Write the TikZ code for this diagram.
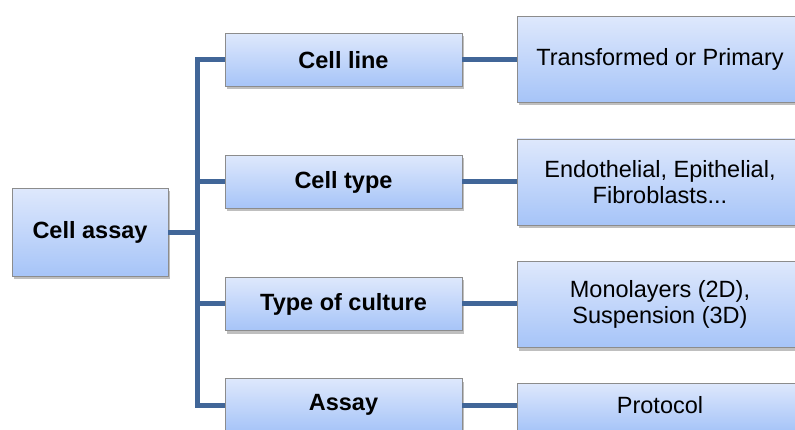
\documentclass[tikz,border=0pt]{standalone}
\usepackage{fontspec}
\setmainfont{Liberation Sans}
\usetikzlibrary{shadows}
\definecolor{linkblue}{RGB}{65,102,152}
\definecolor{boxtop}{RGB}{222,232,252}
\definecolor{boxbot}{RGB}{166,196,248}
\definecolor{boxedge}{RGB}{140,140,140}
\tikzset{
  box/.style={draw=boxedge, line width=0.8pt, shading=axis, top color=boxtop, bottom color=boxbot,
    drop shadow={shadow xshift=2pt, shadow yshift=-3pt, fill=black, opacity=0.25},
    align=center, inner sep=0pt, font=\fontsize{23.5}{26}\selectfont},
  leftbox/.style={box, minimum width=237pt, minimum height=53pt, font=\fontsize{23.5}{26}\selectfont\bfseries},
  rightbox/.style={box, minimum width=286pt, minimum height=86pt},
  link/.style={draw=linkblue, line width=5pt}
}
\begin{document}
\begin{tikzpicture}[x=1pt, y=-1pt]
\useasboundingbox (0,0) rectangle (795,430);
\begin{scope}
\clip (0,0) rectangle (795,430);
% root
\node[box, minimum width=156pt, minimum height=88pt, font=\fontsize{23.5}{26}\selectfont\bfseries] (root) at (90,232.5) {Cell assay};
% second level
\node[leftbox] (line) at (343.5,60) {Cell line};
\node[leftbox] (type) at (343.5,182) {Cell type};
\node[leftbox] (cult) at (343.5,304) {Type of culture};
\node[leftbox] (assay) at (343.5,405) {Assay};
% third level
\node[rightbox] (prim) at (660,59.5) {Transformed or Primary};
\node[rightbox] (endo) at (660,182) {Endothelial, Epithelial,\\Fibroblasts...};
\node[rightbox] (mono) at (660,304.5) {Monolayers (2D),\\Suspension (3D)};
\node[rightbox, minimum height=48pt] (prot) at (660,407) {};
\node[font=\fontsize{23.5}{26}\selectfont] (protlabel) at (660,405.5) {Protocol};
% bus from the root to the second level
\coordinate (bus) at (197.5,232.5);
\draw[link] (root.east) -- (bus);
\draw[link, line join=miter] (line.west) -- (line.west -| bus) -- (assay.west -| bus) -- (assay.west);
\draw[link] (type.west -| bus) -- (type.west);
\draw[link] (cult.west -| bus) -- (cult.west);
% links to the third level
\draw[link] (line.east) -- (line.east -| prim.west);
\draw[link] (type.east) -- (type.east -| endo.west);
\draw[link] (cult.east) -- (cult.east -| mono.west);
\draw[link] (assay.east) -- (assay.east -| prot.west);
\end{scope}
\end{tikzpicture}
\end{document}
